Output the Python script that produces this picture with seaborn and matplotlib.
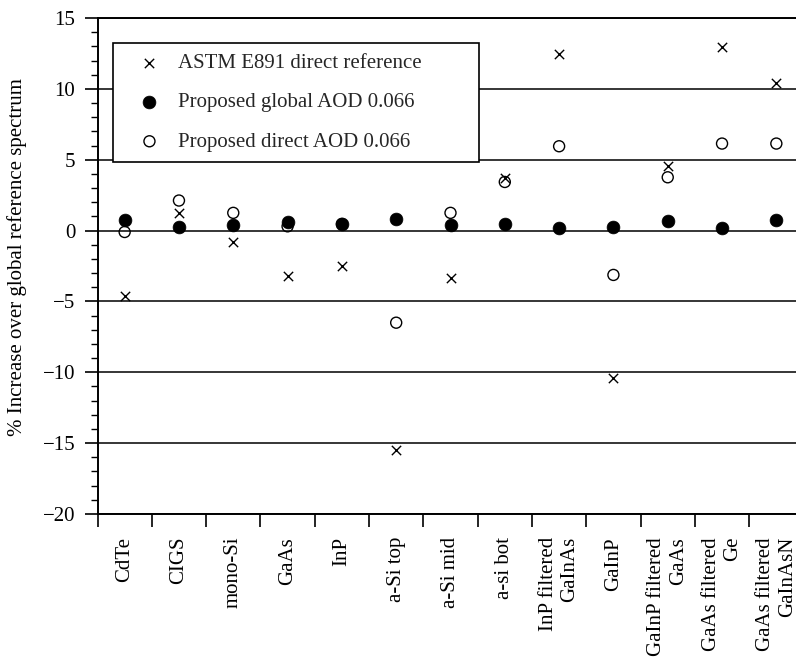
import matplotlib
matplotlib.use("Agg")
import matplotlib.pyplot as plt
import seaborn as sns
import pandas as pd
import numpy as np
from matplotlib.ticker import MultipleLocator, FixedLocator

categories = ["CdTe", "CIGS", "mono-Si", "GaAs", "InP", "a-Si top", "a-Si mid",
              "a-si bot", "InP filtered\nGaInAs", "GaInP", "GaInP filtered\nGaAs",
              "GaAs filtered\nGe", "GaAs filtered\nGaInAsN"]
astm_direct = [-4.63, 1.25, -0.82, -3.22, -2.52, -15.45, -3.34, 3.72, 12.49, -10.4, 4.54, 12.94, 10.42]
proposed_global = [0.78, 0.28, 0.42, 0.59, 0.47, 0.82, 0.42, 0.49, 0.19, 0.26, 0.66, 0.19, 0.73]
proposed_direct = [-0.1, 2.12, 1.25, 0.3, 0.47, -6.5, 1.25, 3.43, 5.95, -3.13, 3.76, 6.14, 6.14]
labels = ["ASTM E891 direct reference", "Proposed global AOD 0.066", "Proposed direct AOD 0.066"]

sns.set_theme(style="white")
plt.rcParams['font.family'] = ['Liberation Serif', 'DejaVu Serif']

FS = 15

df = pd.DataFrame({"cat": categories, "astm": astm_direct,
                   "glob": proposed_global, "direct": proposed_direct})
df["pos"] = np.arange(len(categories))

fig = plt.figure(figsize=(7.96, 6.57), dpi=100)
W, H = 796, 657
left, right, top, bottom = 97.5, 803.5, 18, 514
ax = fig.add_axes([left / W, (H - bottom) / H, (right - left) / W, (bottom - top) / H])

sns.scatterplot(data=df, x="pos", y="direct", marker="o", s=63, facecolor="none",
                edgecolor="black", linewidth=1.0, ax=ax, label=labels[2], zorder=3)
sns.scatterplot(data=df, x="pos", y="glob", marker="o", s=85, color="black",
                edgecolor="black", linewidth=0.5, ax=ax, label=labels[1], zorder=4)
sns.scatterplot(data=df, x="pos", y="astm", marker="x", s=45, color="black",
                linewidth=1.0, ax=ax, label=labels[0], zorder=5)

ax.set_xlim(-0.5, len(categories) - 0.5)
ax.set_ylim(-20, 15)
ax.set_xlabel("")
ax.set_ylabel("% Increase over global reference spectrum", fontsize=FS, color="black")
ax.yaxis.set_label_coords(-0.100, 0.518)

ax.set_xticks(np.arange(len(categories)))
ax.set_xticklabels(categories, rotation=90, ha="center", va="top",
                   multialignment="right", fontsize=FS)
ax.xaxis.set_minor_locator(FixedLocator(np.arange(-0.5, len(categories), 1.0)))
ax.tick_params(axis="x", which="major", length=0, pad=16.5, colors="black")
ax.tick_params(axis="x", which="minor", length=9.4, width=1.2, direction="out",
               color="black", bottom=True)

ax.yaxis.set_major_locator(MultipleLocator(5))
ax.yaxis.set_minor_locator(MultipleLocator(1))
ax.tick_params(axis="y", which="major", length=9.4, width=1.2, direction="out",
               pad=6.5, labelsize=FS, colors="black", left=True)
ax.tick_params(axis="y", which="minor", length=5, width=1.0, direction="out",
               color="black", left=True)

ax.yaxis.grid(True, which="major", color="black", linewidth=1.1)
ax.xaxis.grid(False)
ax.set_axisbelow(True)

for side in ["left", "top", "bottom"]:
    ax.spines[side].set_visible(True)
    ax.spines[side].set_color("black")
    ax.spines[side].set_linewidth(1.4)
ax.spines["right"].set_visible(False)

handles, labs = ax.get_legend_handles_labels()
order = [labs.index(l) for l in labels]
x0 = (113 - left) / (right - left)
y1 = (bottom - 43) / (bottom - top)
wl = (479 - 113) / (right - left)
hl = (160 - 43) / (bottom - top)
leg = ax.legend([handles[i] for i in order], [labs[i] for i in order],
                loc="upper left", bbox_to_anchor=(x0, y1 - hl, wl, hl), mode="expand",
                borderaxespad=0, fancybox=False, edgecolor="black", framealpha=1,
                fontsize=FS, handlelength=2.5, handletextpad=0.1, labelspacing=0.95,
                borderpad=0.5, frameon=True)
leg.get_frame().set_linewidth(1.2)
leg.set_zorder(10)

fig.savefig("out.png", dpi=100)
